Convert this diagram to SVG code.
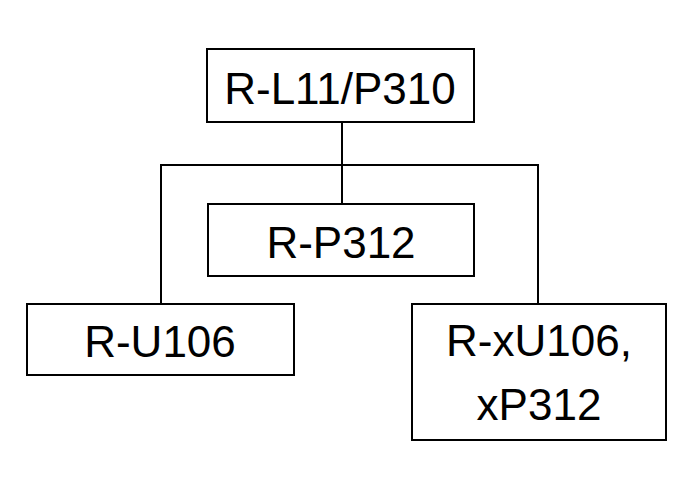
<svg xmlns="http://www.w3.org/2000/svg" width="693" height="482" viewBox="0 0 693 482">
<style>
.box{fill:#fff;stroke:#000;stroke-width:2}
.t{font-family:"Liberation Sans",Arial,sans-serif;font-size:44px;fill:#000;text-anchor:middle}
.c{fill:none;stroke:#000;stroke-width:2}
</style>
<rect width="693" height="482" fill="#fff"/>
<g id="connectors">
<path class="c" d="M342 122V204"/>
<path class="c" d="M161 304V165H538V304"/>
</g>
<g id="n-top">
<rect class="box" x="207" y="49" width="267" height="73"/>
<text class="t" x="340" y="104">R-L11/P310</text>
</g>
<g id="n-p312">
<rect class="box" x="208" y="204" width="266" height="72"/>
<text class="t" x="341" y="258">R-P312</text>
</g>
<g id="n-u106">
<rect class="box" x="27" y="304" width="267" height="71"/>
<text class="t" x="160" y="357">R-U106</text>
</g>
<g id="n-x">
<rect class="box" x="412" y="304" width="254" height="136"/>
<text class="t" x="539" y="356">R-xU106,</text>
<text class="t" x="539" y="420">xP312</text>
</g>
</svg>
